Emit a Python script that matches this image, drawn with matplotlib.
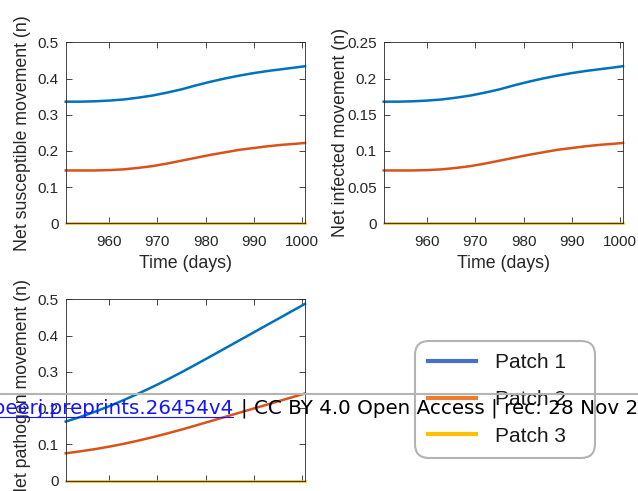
import matplotlib
matplotlib.use("Agg")
import matplotlib.pyplot as plt
from matplotlib.lines import Line2D
from matplotlib.ticker import FuncFormatter, MultipleLocator

# ---- data ----
time_days = [951, 954, 957, 960, 963, 966, 969, 972, 975, 978, 981, 984, 987,
             990, 993, 996, 999, 1000.6]

susc_patch1 = [0.336, 0.336, 0.337, 0.339, 0.342, 0.347, 0.353, 0.361, 0.370,
               0.381, 0.391, 0.400, 0.408, 0.415, 0.421, 0.426, 0.431, 0.434]
susc_patch2 = [0.146, 0.146, 0.146, 0.147, 0.149, 0.153, 0.158, 0.165, 0.173,
               0.181, 0.189, 0.196, 0.203, 0.208, 0.213, 0.217, 0.220, 0.222]
susc_patch3 = [0.0] * 18

inf_patch1 = [0.168, 0.168, 0.1685, 0.1695, 0.171, 0.1735, 0.1765, 0.1805, 0.185,
              0.1905, 0.1955, 0.200, 0.204, 0.2075, 0.2105, 0.213, 0.2155, 0.217]
inf_patch2 = [0.073, 0.073, 0.073, 0.0735, 0.0745, 0.0765, 0.079, 0.0825, 0.0865,
              0.0905, 0.0945, 0.098, 0.1015, 0.104, 0.1065, 0.1085, 0.110, 0.111]
inf_patch3 = [0.0] * 18

path_patch1 = [0.163, 0.1756, 0.1897, 0.2053, 0.2221, 0.2398, 0.2584, 0.2782,
               0.2989, 0.3205, 0.3424, 0.3646, 0.3868, 0.409, 0.4312, 0.4534,
               0.4756, 0.4874]
path_patch2 = [0.0755, 0.0809, 0.0869, 0.0938, 0.1016, 0.1103, 0.1199, 0.1301,
               0.1409, 0.1523, 0.1640, 0.1757, 0.1874, 0.1991, 0.2108, 0.2225,
               0.2342, 0.2404]
path_patch3 = [0.0] * 18

legend_labels = ["Patch 1", "Patch 2", "Patch 3"]
x_ticks = [960, 970, 980, 990, 1000]

# ---- styling ----
W, H = 638, 491
line_colors = ["#0072BD", "#D95319", "#EDB120"]
legend_colors = ["#4472C4", "#ED7D31", "#FFC000"]
axcol = "#262626"
plt.rcParams["font.family"] = ["Liberation Sans", "DejaVu Sans"]

fig = plt.figure(figsize=(W / 100, H / 100), dpi=100)


def px_axes(x0, y0, x1, y1):
    return fig.add_axes([x0 / W, 1 - y1 / H, (x1 - x0) / W, (y1 - y0) / H])


fmt = FuncFormatter(lambda v, p: f"{v:g}")


def style(ax, ymax, ystep, ylabel, xlabels=True):
    ax.set_xlim(951, 1000.6)
    ax.set_ylim(0, ymax)
    ax.set_xticks(x_ticks)
    ax.yaxis.set_major_locator(MultipleLocator(ystep))
    ax.yaxis.set_major_formatter(fmt)
    ax.tick_params(direction="in", length=4, width=0.6, colors=axcol,
                   labelsize=11, top=True, right=True, pad=5)
    ax.tick_params(axis="x", pad=8.5, labelbottom=xlabels)
    for s in ax.spines.values():
        s.set_color(axcol)
        s.set_linewidth(0.6)
    if xlabels:
        ax.set_xlabel("Time (days)", fontsize=12.8, color=axcol, labelpad=4)
    ax.set_ylabel(ylabel, fontsize=12.8, color=axcol)
    ax.yaxis.set_label_coords(-0.145, 0.5)


ax1 = px_axes(65.7, 42.3, 305, 223.3)
for ys, c in zip([susc_patch1, susc_patch2, susc_patch3], line_colors):
    ax1.plot(time_days, ys, color=c, lw=1.8, clip_on=False)
style(ax1, 0.5, 0.1, "Net susceptible movement (n)")

ax2 = px_axes(383.7, 42.3, 623, 223.3)
for ys, c in zip([inf_patch1, inf_patch2, inf_patch3], line_colors):
    ax2.plot(time_days, ys, color=c, lw=1.8, clip_on=False)
style(ax2, 0.25, 0.05, "Net infected movement (n)")

ax3 = px_axes(65.7, 299.3, 305, 480.7)
for ys, c in zip([path_patch1, path_patch2, path_patch3], line_colors):
    ax3.plot(time_days, ys, color=c, lw=1.8, clip_on=False)
style(ax3, 0.5, 0.1, "Net pathogen movement (n)", xlabels=False)

# legend
handles = [Line2D([], [], color=c, lw=3) for c in legend_colors]
x0, y0, x1, y1 = 415, 341, 595, 458
leg = fig.legend(handles, legend_labels, loc="upper left",
                 bbox_to_anchor=(x0 / W, 1 - y1 / H, (x1 - x0) / W, (y1 - y0) / H),
                 mode="expand", borderaxespad=0, fontsize=15,
                 handlelength=2.35, handletextpad=0.9, labelspacing=0.84,
                 borderpad=0.6, frameon=True, fancybox=True)
leg.get_frame().set_edgecolor("#a0a0a0")
leg.get_frame().set_linewidth(1.5)
leg.get_frame().set_facecolor("none")
leg.legendPatch.set_boxstyle("round", pad=0, rounding_size=0.65)
for t in leg.get_texts():
    t.set_color("#1a1a1a")

# overlay watermark
fig.add_artist(Line2D([0, 1], [1 - 394.3 / H] * 2, color="#b4b4b4", lw=1.5,
                      transform=fig.transFigure, zorder=20))
fig.text(233 / W, 1 - 414 / H, "https://doi.org/10.7287/peerj.preprints.26454v4",
         color="#1515ff", fontsize=14.3, family="DejaVu Sans", ha="right",
         va="baseline", zorder=21)
fig.add_artist(Line2D([0, 233 / W], [1 - 417 / H] * 2, color="#1515ff", lw=0.8,
                      transform=fig.transFigure, zorder=21))
fig.text(241 / W, 1 - 414 / H,
         "| CC BY 4.0 Open Access | rec: 28 Nov 2017, publ: 28 Nov 2017",
         color="black", fontsize=14.3, family="DejaVu Sans", ha="left",
         va="baseline", zorder=21)

fig.savefig("out.png", dpi=100)
